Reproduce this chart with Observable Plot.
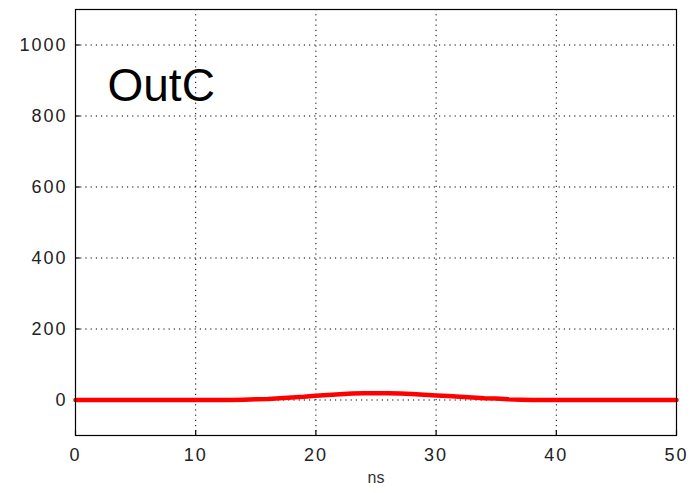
<!DOCTYPE html>
<html><head><meta charset="utf-8">
<script src="https://cdn.jsdelivr.net/npm/d3@7"></script>
<script src="https://cdn.jsdelivr.net/npm/@observablehq/plot@0.6"></script>
<style>
body{margin:0;background:#fff;}
#chart{position:relative;width:698px;height:493px;}
#chart svg{font-family:"Liberation Sans",Arial,sans-serif;}
</style>
</head><body><div id="chart"></div>
<script>
const xTicks = [0,10,20,30,40,50];
const yTicks = [0,200,400,600,800,1000];
const timeNs = [0,2,4,6,8,10,12,13,14,15,16,17,18,19,20,21,22,23,24,25,26,27,28,29,30,31,32,33,34,35,36,37,38,40,42,44,46,48,50];
const outC   = [0,0,0,0,0,0,0,0,1,2,3,5,7,9,12,14,16,18,19,19,19,18,17,15,13,11,9,7,5,4,2,1,0,0,0,0,0,0,0];
const label = "OutC";
const xLabel = "ns";
const data = timeNs.map((t,i)=>({t, v: outC[i]}));

const chart = Plot.plot({
  width: 698, height: 493,
  marginLeft: 75, marginRight: 22, marginTop: 9, marginBottom: 58,
  style: {fontSize: "17px", color: "#222", background: "#fff"},
  x: {domain: [0,50]},
  y: {domain: [-100,1100]},
  marks: [
    Plot.gridX(xTicks, {stroke: "#000", strokeOpacity: 1, strokeDasharray: "1.2,4"}),
    Plot.gridY(yTicks, {stroke: "#000", strokeOpacity: 1, strokeDasharray: "1.2,4"}),
    Plot.axisX(xTicks, {tickSize: 0, tickPadding: 13, label: null, fontSize: 18, tickFormat: d3.format("d")}),
    Plot.axisY(yTicks, {tickSize: 0, tickPadding: 8, label: null, fontSize: 18, tickFormat: d3.format("d")}),
    Plot.ruleX(xTicks, {x: d => d, y1: -100, y2: -86, stroke: "#000", strokeWidth: 1.2}),
    Plot.ruleY(yTicks, {y: d => d, x1: 0, x2: 0.4, stroke: "#000", strokeWidth: 1.2}),
    Plot.line(data, {x: "t", y: "v", stroke: "#f00", strokeWidth: 4.5}),
    Plot.frame({stroke: "#000", strokeWidth: 1.2}),
    Plot.text([label], {frameAnchor: "top-left", dx: 32, dy: 91, text: d => d, fontSize: 46, textAnchor: "start", lineAnchor: "bottom", fill: "#000"}),
    Plot.text([xLabel], {frameAnchor: "bottom", dy: 47, text: d => d, fontSize: 16, fill: "#333"})
  ]
});
d3.select(chart).selectAll('g[aria-label="x-axis tick label"], g[aria-label="y-axis tick label"]').attr("letter-spacing", "2px");
document.getElementById("chart").appendChild(chart);
</script>
</body></html>
